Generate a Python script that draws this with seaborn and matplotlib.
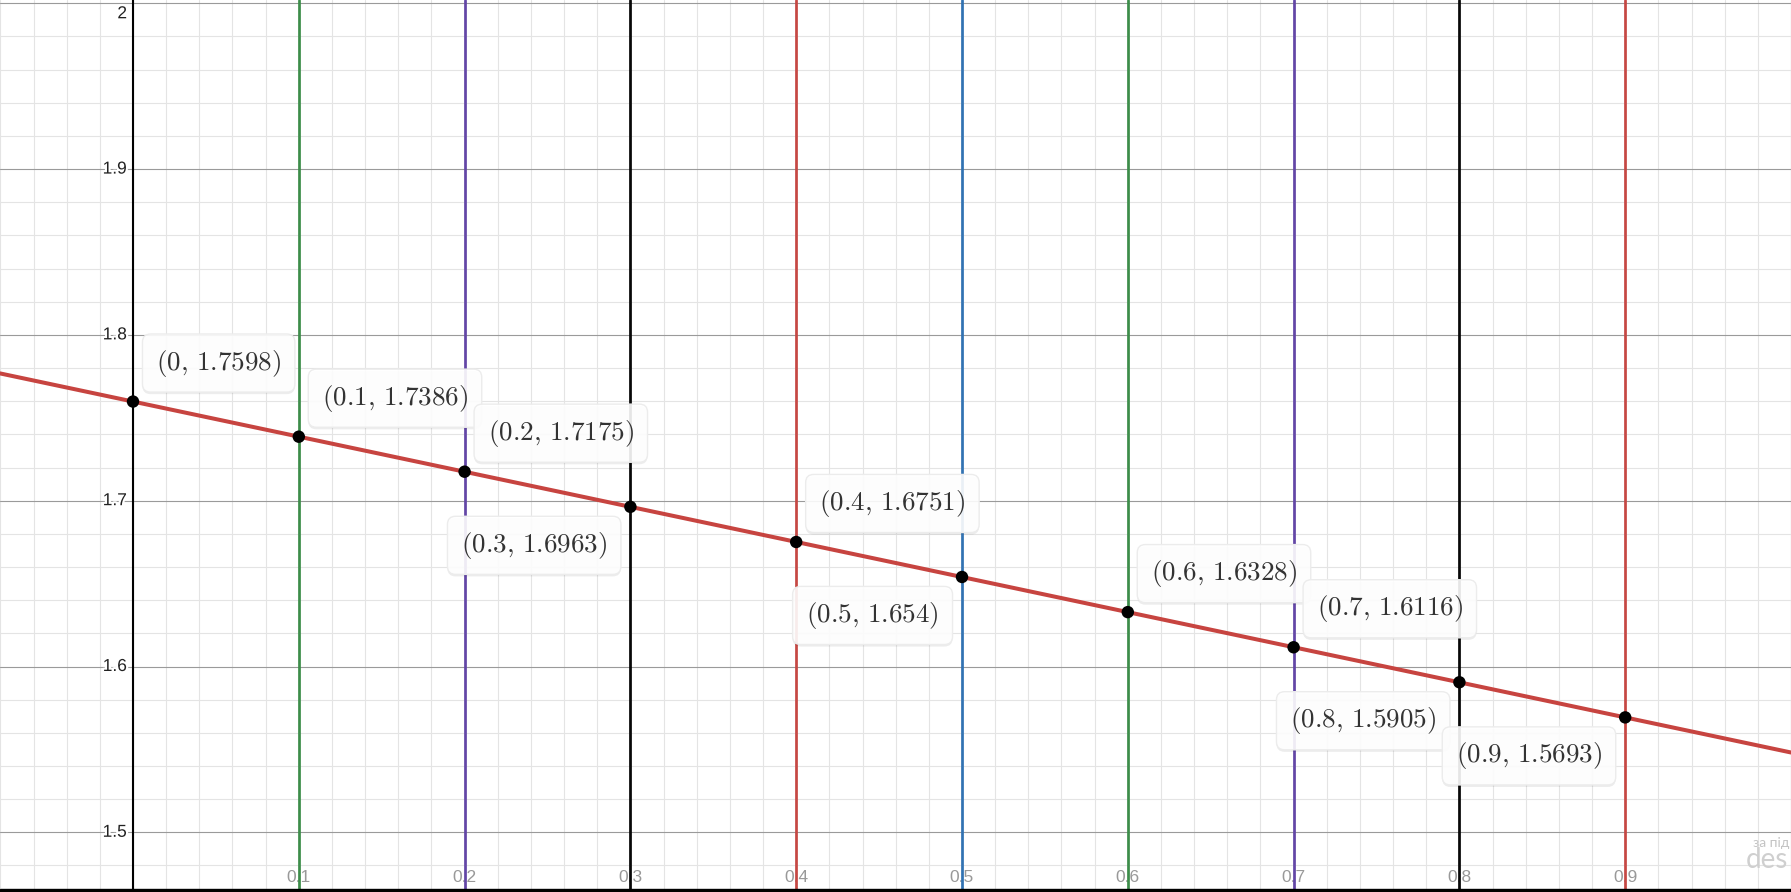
import numpy as np
import pandas as pd
import matplotlib
matplotlib.use("Agg")
import matplotlib.pyplot as plt
import matplotlib.patheffects as pe
from matplotlib.ticker import MultipleLocator
from matplotlib.patches import Rectangle
import seaborn as sns

# ---------------- data ----------------
x_points = [0.0, 0.1, 0.2, 0.3, 0.4, 0.5, 0.6, 0.7, 0.8, 0.9]
y_points = [1.7598, 1.7386, 1.7175, 1.6963, 1.6751, 1.654, 1.6328, 1.6116, 1.5905, 1.5693]
vline_x = [0.1, 0.2, 0.3, 0.4, 0.5, 0.6, 0.7, 0.8, 0.9]
vline_colors = ["#388c46", "#6042a6", "#000000", "#c74440", "#2d70b3",
                "#388c46", "#6042a6", "#000000", "#c74440"]
label_side = ["ur", "ur", "ur", "dl", "ur", "dl", "ur", "ur", "dl", "dl"]
y_tick_values = [2.0, 1.9, 1.8, 1.7, 1.6, 1.5]
y_tick_labels = ["2", "1.9", "1.8", "1.7", "1.6", "1.5"]
x_tick_values = [0.1, 0.2, 0.3, 0.4, 0.5, 0.6, 0.7, 0.8, 0.9]
x_tick_labels = ["0.1", "0.2", "0.3", "0.4", "0.5", "0.6", "0.7", "0.8", "0.9"]

df = pd.DataFrame({"x": x_points, "y": y_points})

sns.set_theme(style="white")
plt.rcParams["font.family"] = ["Liberation Sans", "DejaVu Sans"]
plt.rcParams["mathtext.fontset"] = "cm"

W, H = 1791, 892
fig = plt.figure(figsize=(W / 100, H / 100), dpi=100)
ax = fig.add_axes([0, 0, 1, 1])
ppu = 1658.0  # pixels per unit
ax.set_xlim(-133.0 / ppu, (W - 133.0) / ppu)
ax.set_ylim(2.0 - (H - 3.3) / ppu, 2.0 + 3.3 / ppu)
for s in ax.spines.values():
    s.set_visible(False)

ax.xaxis.set_major_locator(MultipleLocator(0.1))
ax.yaxis.set_major_locator(MultipleLocator(0.1))
ax.xaxis.set_minor_locator(MultipleLocator(0.02))
ax.yaxis.set_minor_locator(MultipleLocator(0.02))
ax.grid(which="minor", color="#e4e4e4", lw=0.8, zorder=0)
ax.grid(which="major", color="#9a9a9a", lw=0.8, zorder=0)
ax.tick_params(which="both", length=0, labelbottom=False, labelleft=False)
ax.set_axisbelow(True)

# y axis
ax.axvline(0, color="black", lw=1.5, zorder=2)

# colored vertical lines
for xv, c in zip(vline_x, vline_colors):
    ax.axvline(xv, color=c, lw=2.0, alpha=0.95, zorder=2)

# red line through the points
ax.axline((x_points[0], y_points[0]), (x_points[-1], y_points[-1]),
          color="#c74440", lw=2.9, zorder=3)

sns.scatterplot(data=df, x="x", y="y", color="black", s=80, edgecolor="none",
                zorder=4, ax=ax, legend=False)
ax.set_xlabel("")
ax.set_ylabel("")

# point labels
fs = 19.5
off = 23
for xv, yv, side in zip(x_points, y_points, label_side):
    txt = r"$(%s,\,%s)$" % (f"{xv:g}", f"{yv:g}")
    if side == "ur":
        xy_off, ha, va = (off, off), "left", "bottom"
    else:
        xy_off, ha, va = (-off, -off), "right", "top"
    ann = ax.annotate(txt, (xv, yv), xytext=xy_off, textcoords="offset pixels",
                      ha=ha, va=va, fontsize=fs, color="#333333", zorder=6,
                      bbox=dict(boxstyle="round,pad=0.5,rounding_size=0.3",
                                fc=(1, 1, 1, 0.9), ec="#ececec", lw=1.0))
    ann.get_bbox_patch().set_path_effects(
        [pe.SimplePatchShadow(offset=(0, -1.5), shadow_rgbFace="black", alpha=0.07),
         pe.Normal()])

# y tick labels
halo = [pe.withStroke(linewidth=3, foreground="white")]
for yv, lab in zip(y_tick_values, y_tick_labels):
    if yv == 2.0:
        ax.annotate(lab, (0, yv), xytext=(-6, -3), textcoords="offset pixels",
                    ha="right", va="top", fontsize=12.5, color="#222222",
                    path_effects=halo, zorder=5)
    else:
        ax.annotate(lab, (0, yv), xytext=(-6, 0), textcoords="offset pixels",
                    ha="right", va="center", fontsize=12.5, color="#222222",
                    path_effects=halo, zorder=5)

# x tick labels (at bottom, gray)
xt = ax.get_xaxis_transform()
for xv, lab in zip(x_tick_values, x_tick_labels):
    ax.text(xv, (H - 878) / H, lab, transform=xt, ha="center", va="center",
            fontsize=12.5, color="#999999", zorder=1.5)

# watermark (visible part only, as in the screenshot)
fig.text(1753 / W, 1 - 843 / H, "за під", fontsize=10, color="#c4c4c4",
         ha="left", va="center", family=["Lato", "DejaVu Sans"])
fig.text(1746 / W, 1 - 860 / H, "des", fontsize=20, color="#cfcfcf",
         ha="left", va="center", family=["Lato", "DejaVu Sans"])

# bottom dark strip
fig.patches.append(Rectangle((0, 0), 1, 3 / H, transform=fig.transFigure,
                             color="black", zorder=10))

fig.savefig("out.png", dpi=100)
